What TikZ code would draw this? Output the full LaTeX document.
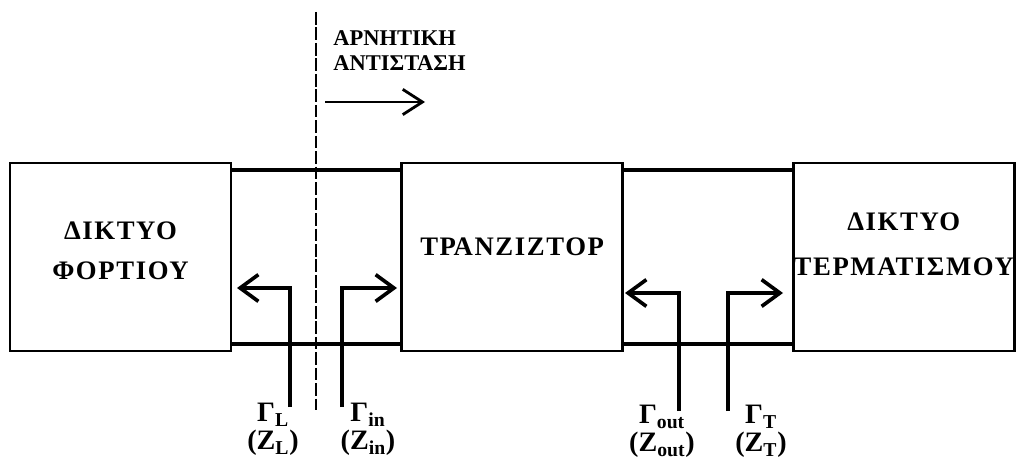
\documentclass[tikz,border=0pt]{standalone}
\usepackage{fontspec}
\setmainfont{Liberation Serif}
\usetikzlibrary{positioning,arrows.meta}

\tikzset{
  block/.style={draw, rectangle, line width=1.8pt, minimum width=5.525cm, minimum height=4.7cm},
  blocktext/.style={font=\bfseries\fontsize{19}{28.5}\selectfont\addfontfeatures{LetterSpace=6}, align=center},
  wire/.style={line width=2.6pt},
  refl/.style={line width=2.6pt, -{Straight Barb[length=13pt,width=19pt]}},
  gamma/.style={font=\bfseries\fontsize{20}{20}\selectfont, align=center, anchor=north, inner sep=0pt},
  divider/.style={line width=1.2pt, dash pattern=on 9pt off 2pt},
}

\begin{document}
\begin{tikzpicture}[x=0.025cm,y=-0.025cm]
    \useasboundingbox (0,0) rectangle (1017,465);

    % blocks
    \node (load) [block] at (120.5,257) {};
    \node (tran) [block, right=4.2cm of load] {};
    \node (term) [block, right=4.2cm of tran] {};

    \node (loadtxt) [blocktext] at ([yshift=0.15cm]load.center) {ΔΙΚΤΥΟ\\ΦΟΡΤΙΟΥ};
    \node (trantxt) [blocktext] at ([yshift=0.25cm]tran.center) {ΤΡΑΝΖΙΖΤΟΡ};
    \node (termtxt) [blocktext] at ([yshift=0.325cm]term.center) {ΔΙΚΤΥΟ\\[3.5pt]ΤΕΡΜΑΤΙΣΜΟΥ};

    % lines between the blocks
    \draw[wire] ([yshift=-0.2cm]load.north east) -- ([yshift=-0.2cm]tran.north west);
    \draw[wire] ([yshift=0.2cm]load.south east) -- ([yshift=0.2cm]tran.south west);
    \draw[wire] ([yshift=-0.2cm]tran.north east) -- ([yshift=-0.2cm]term.north west);
    \draw[wire] ([yshift=0.2cm]tran.south east) -- ([yshift=0.2cm]term.south west);

    % reference plane
    \coordinate (dtop) at (316,12);
    \coordinate (dbot) at (316,410);
    \draw[divider] (dtop) -- (dbot);

    \node (neg) [font=\bfseries\fontsize{16}{17.8}\selectfont, align=left, anchor=north west, inner sep=0pt] at (333,30) {ΑΡΝΗΤΙΚΗ\\ΑΝΤΙΣΤΑΣΗ};
    \coordinate (negA) at (325,102);
    \coordinate (negB) at (425,102);
    \draw[line width=2pt, -{Straight Barb[length=14pt,width=18pt]}] (negA) -- (negB);

    % reflection coefficients
    \coordinate (pL) at (290,407);   \coordinate (tL) at (237,288);
    \coordinate (pin) at (342,407);  \coordinate (tin) at (397,288);
    \coordinate (pout) at (679,411); \coordinate (tout) at (625,293);
    \coordinate (pT) at (728,411);   \coordinate (tT) at (783,293);
    \draw[refl] (pL) |- (tL);
    \draw[refl] (pin) |- (tin);
    \draw[refl] (pout) |- (tout);
    \draw[refl] (pT) |- (tT);

    \node (gL) [gamma] at (273,403) {Γ\textsubscript{L}\\(Z\textsubscript{L})};
    \node (gin) [gamma] at (368,403) {Γ\textsubscript{in}\\(Z\textsubscript{in})};
    \node (gout) [gamma] at (662,405) {Γ\textsubscript{out}\\(Z\textsubscript{out})};
    \node (gT) [gamma] at (761,405) {Γ\textsubscript{T}\\(Z\textsubscript{T})};
\end{tikzpicture}
\end{document}
